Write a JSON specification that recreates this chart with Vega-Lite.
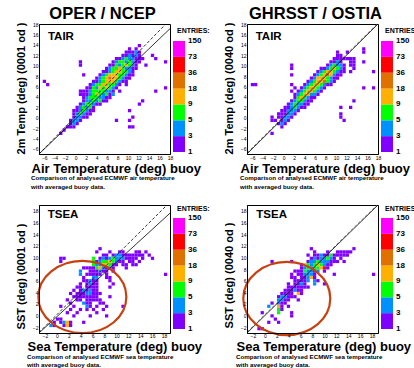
{
"$schema": "https://vega.github.io/schema/vega-lite/v6.json",
"padding": {"left": 14, "top": 5, "right": 0, "bottom": 0},
"background": "white",
"config": {
 "font": "Liberation Sans",
 "view": {"stroke": "black", "strokeWidth": 1},
 "axis": {"grid": false, "ticks": false, "labelFontSize": 5, "labelPadding": 1, "labelFlush": false, "labelOverlap": false, "domainColor": "black", "labelColor": "black", "titleColor": "black", "labelFont": "Liberation Sans", "titleFont": "Liberation Sans"},
 "title": {"font": "Liberation Sans", "color": "black"},
 "text": {"font": "Liberation Sans", "color": "black"}
},
"datasets": {
 "bands": [{"lo":0,"hi":1,"n":1},{"lo":1,"hi":2,"n":4},{"lo":2,"hi":3,"n":7},{"lo":3,"hi":4,"n":12},{"lo":4,"hi":5,"n":25},{"lo":5,"hi":6,"n":50},{"lo":6,"hi":7,"n":100}],
 "blab": [{"k":0,"lab":"1"},{"k":1,"lab":"3"},{"k":2,"lab":"5"},{"k":3,"lab":"9"},{"k":4,"lab":"18"},{"k":5,"lab":"36"},{"k":6,"lab":"73"},{"k":7,"lab":"150"}],
 "lines": [{"p":"A","t":"s","x":-7,"y":-7},{"p":"A","t":"s","x":18,"y":17.1},{"p":"A","t":"d","x":-7,"y":-7},{"p":"A","t":"d","x":17.2,"y":18},{"p":"B","t":"s","x":-7,"y":-7},{"p":"B","t":"s","x":18,"y":18},{"p":"B","t":"d","x":-7,"y":-6.8},{"p":"B","t":"d","x":17.8,"y":18},{"p":"C","t":"s","x":-3,"y":-3},{"p":"C","t":"s","x":19,"y":17.6},{"p":"C","t":"d","x":-3,"y":-2.9},{"p":"C","t":"d","x":18.5,"y":19},{"p":"D","t":"s","x":-3,"y":-3},{"p":"D","t":"s","x":19,"y":19},{"p":"D","t":"d","x":-3,"y":-2.85},{"p":"D","t":"d","x":18.85,"y":19}],
 "ell": [{"p":"C","x":4.28,"y":3.19},{"p":"D","x":3.68,"y":2.93}],
 "A": [
{"x":11.75,"y":13.625,"n":1},
{"x":9.875,"y":13,"n":1},{"x":11.125,"y":13,"n":1},
{"x":9.25,"y":12.375,"n":1},{"x":9.875,"y":12.375,"n":1},{"x":10.5,"y":12.375,"n":1},{"x":11.125,"y":12.375,"n":4},{"x":11.75,"y":12.375,"n":1},
{"x":8.625,"y":11.75,"n":1},{"x":9.25,"y":11.75,"n":1},{"x":9.875,"y":11.75,"n":4},{"x":10.5,"y":11.75,"n":1},{"x":11.125,"y":11.75,"n":4},{"x":11.75,"y":11.75,"n":1},{"x":14.25,"y":11.75,"n":1},
{"x":7.375,"y":11.125,"n":1},{"x":8,"y":11.125,"n":1},{"x":8.625,"y":11.125,"n":4},{"x":9.25,"y":11.125,"n":7},{"x":9.875,"y":11.125,"n":4},{"x":10.5,"y":11.125,"n":4},{"x":11.125,"y":11.125,"n":1},{"x":11.75,"y":11.125,"n":1},{"x":12.375,"y":11.125,"n":1},{"x":14.875,"y":11.125,"n":1},
{"x":0.5,"y":10.5,"n":1},{"x":6.75,"y":10.5,"n":1},{"x":7.375,"y":10.5,"n":4},{"x":8,"y":10.5,"n":7},{"x":8.625,"y":10.5,"n":7},{"x":9.25,"y":10.5,"n":4},{"x":9.875,"y":10.5,"n":7},{"x":10.5,"y":10.5,"n":4},{"x":11.125,"y":10.5,"n":1},{"x":11.75,"y":10.5,"n":1},{"x":16.75,"y":10.5,"n":1},
{"x":0.5,"y":9.875,"n":1},{"x":6.125,"y":9.875,"n":1},{"x":6.75,"y":9.875,"n":1},{"x":7.375,"y":9.875,"n":7},{"x":8,"y":9.875,"n":4},{"x":8.625,"y":9.875,"n":7},{"x":9.25,"y":9.875,"n":12},{"x":9.875,"y":9.875,"n":7},{"x":10.5,"y":9.875,"n":4},{"x":11.125,"y":9.875,"n":1},{"x":13,"y":9.875,"n":1},
{"x":5.5,"y":9.25,"n":1},{"x":6.125,"y":9.25,"n":4},{"x":6.75,"y":9.25,"n":7},{"x":7.375,"y":9.25,"n":7},{"x":8,"y":9.25,"n":12},{"x":8.625,"y":9.25,"n":7},{"x":9.25,"y":9.25,"n":4},{"x":9.875,"y":9.25,"n":4},{"x":10.5,"y":9.25,"n":1},{"x":11.125,"y":9.25,"n":1},
{"x":4.875,"y":8.625,"n":1},{"x":5.5,"y":8.625,"n":1},{"x":6.125,"y":8.625,"n":4},{"x":6.75,"y":8.625,"n":7},{"x":7.375,"y":8.625,"n":12},{"x":8,"y":8.625,"n":12},{"x":8.625,"y":8.625,"n":7},{"x":9.25,"y":8.625,"n":7},{"x":9.875,"y":8.625,"n":4},{"x":10.5,"y":8.625,"n":1},
{"x":1.125,"y":8,"n":1},{"x":4.25,"y":8,"n":1},{"x":4.875,"y":8,"n":4},{"x":5.5,"y":8,"n":7},{"x":6.125,"y":8,"n":12},{"x":6.75,"y":8,"n":12},{"x":7.375,"y":8,"n":12},{"x":8,"y":8,"n":7},{"x":8.625,"y":8,"n":7},{"x":9.25,"y":8,"n":4},{"x":9.875,"y":8,"n":1},{"x":10.5,"y":8,"n":1},
{"x":3.625,"y":7.375,"n":1},{"x":4.25,"y":7.375,"n":4},{"x":4.875,"y":7.375,"n":7},{"x":5.5,"y":7.375,"n":12},{"x":6.125,"y":7.375,"n":25},{"x":6.75,"y":7.375,"n":12},{"x":7.375,"y":7.375,"n":12},{"x":8,"y":7.375,"n":7},{"x":8.625,"y":7.375,"n":4},{"x":9.25,"y":7.375,"n":1},{"x":9.875,"y":7.375,"n":1},
{"x":-6.375,"y":6.75,"n":1},{"x":3,"y":6.75,"n":1},{"x":3.625,"y":6.75,"n":1},{"x":4.25,"y":6.75,"n":4},{"x":4.875,"y":6.75,"n":7},{"x":5.5,"y":6.75,"n":12},{"x":6.125,"y":6.75,"n":12},{"x":6.75,"y":6.75,"n":12},{"x":7.375,"y":6.75,"n":7},{"x":8,"y":6.75,"n":4},{"x":8.625,"y":6.75,"n":1},{"x":9.25,"y":6.75,"n":1},
{"x":-5.75,"y":6.125,"n":1},{"x":2.375,"y":6.125,"n":1},{"x":3,"y":6.125,"n":4},{"x":3.625,"y":6.125,"n":7},{"x":4.25,"y":6.125,"n":7},{"x":4.875,"y":6.125,"n":12},{"x":5.5,"y":6.125,"n":12},{"x":6.125,"y":6.125,"n":7},{"x":6.75,"y":6.125,"n":7},{"x":7.375,"y":6.125,"n":4},{"x":8,"y":6.125,"n":1},{"x":9.25,"y":6.125,"n":1},
{"x":1.75,"y":5.5,"n":1},{"x":2.375,"y":5.5,"n":1},{"x":3,"y":5.5,"n":7},{"x":3.625,"y":5.5,"n":4},{"x":4.25,"y":5.5,"n":12},{"x":4.875,"y":5.5,"n":7},{"x":5.5,"y":5.5,"n":12},{"x":6.125,"y":5.5,"n":7},{"x":6.75,"y":5.5,"n":4},{"x":7.375,"y":5.5,"n":1},{"x":16.75,"y":5.5,"n":1},
{"x":0.5,"y":4.875,"n":1},{"x":1.125,"y":4.875,"n":1},{"x":1.75,"y":4.875,"n":1},{"x":2.375,"y":4.875,"n":4},{"x":3,"y":4.875,"n":7},{"x":3.625,"y":4.875,"n":7},{"x":4.25,"y":4.875,"n":7},{"x":4.875,"y":4.875,"n":7},{"x":5.5,"y":4.875,"n":4},{"x":6.125,"y":4.875,"n":4},{"x":6.75,"y":4.875,"n":1},{"x":8,"y":4.875,"n":1},{"x":14.875,"y":4.875,"n":1},
{"x":0.5,"y":4.25,"n":1},{"x":1.125,"y":4.25,"n":1},{"x":1.75,"y":4.25,"n":1},{"x":2.375,"y":4.25,"n":4},{"x":3,"y":4.25,"n":7},{"x":3.625,"y":4.25,"n":12},{"x":4.25,"y":4.25,"n":7},{"x":4.875,"y":4.25,"n":4},{"x":5.5,"y":4.25,"n":7},{"x":6.125,"y":4.25,"n":1},{"x":6.75,"y":4.25,"n":4},
{"x":1.125,"y":3.625,"n":1},{"x":1.75,"y":3.625,"n":4},{"x":2.375,"y":3.625,"n":7},{"x":3,"y":3.625,"n":7},{"x":3.625,"y":3.625,"n":7},{"x":4.25,"y":3.625,"n":4},{"x":4.875,"y":3.625,"n":4},{"x":5.5,"y":3.625,"n":1},{"x":6.125,"y":3.625,"n":1},
{"x":1.125,"y":3,"n":1},{"x":1.75,"y":3,"n":4},{"x":2.375,"y":3,"n":4},{"x":3,"y":3,"n":7},{"x":3.625,"y":3,"n":4},{"x":4.25,"y":3,"n":7},{"x":4.875,"y":3,"n":1},{"x":5.5,"y":3,"n":1},{"x":12.375,"y":3,"n":1},
{"x":0.5,"y":2.375,"n":1},{"x":1.125,"y":2.375,"n":4},{"x":1.75,"y":2.375,"n":7},{"x":2.375,"y":2.375,"n":7},{"x":3,"y":2.375,"n":4},{"x":3.625,"y":2.375,"n":1},{"x":4.25,"y":2.375,"n":1},{"x":11.75,"y":2.375,"n":1},
{"x":-0.125,"y":1.75,"n":1},{"x":0.5,"y":1.75,"n":4},{"x":1.125,"y":1.75,"n":7},{"x":1.75,"y":1.75,"n":4},{"x":2.375,"y":1.75,"n":7},{"x":3,"y":1.75,"n":1},
{"x":-0.75,"y":1.125,"n":1},{"x":-0.125,"y":1.125,"n":1},{"x":0.5,"y":1.125,"n":4},{"x":1.125,"y":1.125,"n":7},{"x":1.75,"y":1.125,"n":4},{"x":2.375,"y":1.125,"n":1},{"x":3,"y":1.125,"n":1},{"x":9.875,"y":1.125,"n":1},
{"x":-0.75,"y":0.5,"n":1},{"x":-0.125,"y":0.5,"n":4},{"x":0.5,"y":0.5,"n":7},{"x":1.125,"y":0.5,"n":4},{"x":1.75,"y":0.5,"n":1},{"x":2.375,"y":0.5,"n":1},
{"x":-0.75,"y":-0.125,"n":1},{"x":-0.125,"y":-0.125,"n":4},{"x":0.5,"y":-0.125,"n":4},{"x":1.125,"y":-0.125,"n":1},{"x":1.75,"y":-0.125,"n":1},{"x":10.5,"y":-0.125,"n":1},
{"x":-1.375,"y":-0.75,"n":1},{"x":-0.75,"y":-0.75,"n":4},{"x":-0.125,"y":-0.75,"n":4},{"x":0.5,"y":-0.75,"n":1},{"x":7.375,"y":-0.75,"n":1},{"x":9.875,"y":-0.75,"n":1},
{"x":-1.375,"y":-1.375,"n":1},{"x":-0.75,"y":-1.375,"n":4},{"x":-0.125,"y":-1.375,"n":1},
{"x":-2,"y":-2,"n":1},{"x":-1.375,"y":-2,"n":1},{"x":-0.75,"y":-2,"n":1},{"x":9.875,"y":-2,"n":1},{"x":10.5,"y":-2,"n":1},
{"x":-2.625,"y":-2.625,"n":1},
{"x":-3.25,"y":-3.25,"n":1}
 ],
 "B": [
{"x":14.875,"y":13,"n":1},
{"x":9.875,"y":12.375,"n":1},{"x":11.75,"y":12.375,"n":1},{"x":14.875,"y":12.375,"n":1},
{"x":9.875,"y":11.75,"n":1},{"x":10.5,"y":11.75,"n":1},
{"x":9.25,"y":11.125,"n":1},{"x":9.875,"y":11.125,"n":1},{"x":10.5,"y":11.125,"n":1},{"x":11.125,"y":11.125,"n":1},{"x":11.75,"y":11.125,"n":1},{"x":12.375,"y":11.125,"n":1},{"x":13,"y":11.125,"n":1},
{"x":8.625,"y":10.5,"n":1},{"x":9.25,"y":10.5,"n":1},{"x":9.875,"y":10.5,"n":4},{"x":10.5,"y":10.5,"n":1},{"x":12.375,"y":10.5,"n":1},{"x":13,"y":10.5,"n":1},{"x":14.875,"y":10.5,"n":1},
{"x":1.125,"y":9.875,"n":1},{"x":8,"y":9.875,"n":1},{"x":8.625,"y":9.875,"n":4},{"x":9.25,"y":9.875,"n":7},{"x":9.875,"y":9.875,"n":4},{"x":10.5,"y":9.875,"n":4},{"x":11.125,"y":9.875,"n":1},{"x":12.375,"y":9.875,"n":1},{"x":13,"y":9.875,"n":1},
{"x":1.125,"y":9.25,"n":1},{"x":6.75,"y":9.25,"n":1},{"x":7.375,"y":9.25,"n":1},{"x":8,"y":9.25,"n":4},{"x":8.625,"y":9.25,"n":7},{"x":9.25,"y":9.25,"n":12},{"x":9.875,"y":9.25,"n":7},{"x":10.5,"y":9.25,"n":4},{"x":11.125,"y":9.25,"n":1},{"x":13,"y":9.25,"n":1},
{"x":6.125,"y":8.625,"n":1},{"x":6.75,"y":8.625,"n":4},{"x":7.375,"y":8.625,"n":7},{"x":8,"y":8.625,"n":12},{"x":8.625,"y":8.625,"n":12},{"x":9.25,"y":8.625,"n":7},{"x":9.875,"y":8.625,"n":4},{"x":10.5,"y":8.625,"n":1},{"x":11.125,"y":8.625,"n":1},{"x":12.375,"y":8.625,"n":1},{"x":16.75,"y":8.625,"n":1},
{"x":1.125,"y":8,"n":1},{"x":5.5,"y":8,"n":1},{"x":6.125,"y":8,"n":4},{"x":6.75,"y":8,"n":7},{"x":7.375,"y":8,"n":12},{"x":8,"y":8,"n":25},{"x":8.625,"y":8,"n":12},{"x":9.25,"y":8,"n":4},{"x":9.875,"y":8,"n":1},{"x":10.5,"y":8,"n":1},
{"x":4.875,"y":7.375,"n":1},{"x":5.5,"y":7.375,"n":4},{"x":6.125,"y":7.375,"n":12},{"x":6.75,"y":7.375,"n":12},{"x":7.375,"y":7.375,"n":12},{"x":8,"y":7.375,"n":7},{"x":8.625,"y":7.375,"n":4},{"x":9.25,"y":7.375,"n":1},{"x":9.875,"y":7.375,"n":1},
{"x":4.25,"y":6.75,"n":1},{"x":4.875,"y":6.75,"n":4},{"x":5.5,"y":6.75,"n":7},{"x":6.125,"y":6.75,"n":12},{"x":6.75,"y":6.75,"n":12},{"x":7.375,"y":6.75,"n":25},{"x":8,"y":6.75,"n":7},{"x":8.625,"y":6.75,"n":4},{"x":9.25,"y":6.75,"n":1},
{"x":-6.375,"y":6.125,"n":1},{"x":-5.75,"y":6.125,"n":1},{"x":1.125,"y":6.125,"n":1},{"x":3.625,"y":6.125,"n":1},{"x":4.25,"y":6.125,"n":4},{"x":4.875,"y":6.125,"n":7},{"x":5.5,"y":6.125,"n":12},{"x":6.125,"y":6.125,"n":12},{"x":6.75,"y":6.125,"n":7},{"x":7.375,"y":6.125,"n":4},{"x":8,"y":6.125,"n":1},{"x":8.625,"y":6.125,"n":1},
{"x":1.75,"y":5.5,"n":1},{"x":3,"y":5.5,"n":1},{"x":3.625,"y":5.5,"n":4},{"x":4.25,"y":5.5,"n":7},{"x":4.875,"y":5.5,"n":12},{"x":5.5,"y":5.5,"n":12},{"x":6.125,"y":5.5,"n":7},{"x":6.75,"y":5.5,"n":4},{"x":7.375,"y":5.5,"n":1},{"x":14.875,"y":5.5,"n":1},{"x":16.75,"y":5.5,"n":1},
{"x":1.125,"y":4.875,"n":1},{"x":2.375,"y":4.875,"n":1},{"x":3,"y":4.875,"n":4},{"x":3.625,"y":4.875,"n":7},{"x":4.25,"y":4.875,"n":12},{"x":4.875,"y":4.875,"n":12},{"x":5.5,"y":4.875,"n":7},{"x":6.125,"y":4.875,"n":4},{"x":6.75,"y":4.875,"n":1},
{"x":1.75,"y":4.25,"n":1},{"x":2.375,"y":4.25,"n":4},{"x":3,"y":4.25,"n":7},{"x":3.625,"y":4.25,"n":12},{"x":4.25,"y":4.25,"n":12},{"x":4.875,"y":4.25,"n":4},{"x":5.5,"y":4.25,"n":4},{"x":6.125,"y":4.25,"n":1},
{"x":1.75,"y":3.625,"n":1},{"x":2.375,"y":3.625,"n":7},{"x":3,"y":3.625,"n":12},{"x":3.625,"y":3.625,"n":7},{"x":4.25,"y":3.625,"n":4},{"x":4.875,"y":3.625,"n":1},{"x":5.5,"y":3.625,"n":1},
{"x":1.125,"y":3,"n":1},{"x":1.75,"y":3,"n":4},{"x":2.375,"y":3,"n":7},{"x":3,"y":3,"n":7},{"x":3.625,"y":3,"n":4},{"x":4.25,"y":3,"n":1},{"x":4.875,"y":3,"n":1},{"x":13,"y":3,"n":1},
{"x":0.5,"y":2.375,"n":1},{"x":1.125,"y":2.375,"n":4},{"x":1.75,"y":2.375,"n":7},{"x":2.375,"y":2.375,"n":4},{"x":3,"y":2.375,"n":4},{"x":3.625,"y":2.375,"n":1},{"x":4.25,"y":2.375,"n":1},
{"x":-0.125,"y":1.75,"n":1},{"x":0.5,"y":1.75,"n":1},{"x":1.125,"y":1.75,"n":4},{"x":1.75,"y":1.75,"n":7},{"x":2.375,"y":1.75,"n":4},{"x":3,"y":1.75,"n":1},{"x":3.625,"y":1.75,"n":1},{"x":10.5,"y":1.75,"n":1},{"x":12.375,"y":1.75,"n":1},
{"x":-0.75,"y":1.125,"n":1},{"x":-0.125,"y":1.125,"n":1},{"x":0.5,"y":1.125,"n":4},{"x":1.125,"y":1.125,"n":4},{"x":1.75,"y":1.125,"n":4},{"x":2.375,"y":1.125,"n":1},
{"x":-1.375,"y":0.5,"n":1},{"x":-0.75,"y":0.5,"n":1},{"x":-0.125,"y":0.5,"n":1},{"x":0.5,"y":0.5,"n":4},{"x":1.125,"y":0.5,"n":4},{"x":1.75,"y":0.5,"n":1},{"x":10.5,"y":0.5,"n":1},
{"x":-2.625,"y":-0.125,"n":1},{"x":-1.375,"y":-0.125,"n":1},{"x":-0.75,"y":-0.125,"n":1},{"x":-0.125,"y":-0.125,"n":4},{"x":0.5,"y":-0.125,"n":4},{"x":1.125,"y":-0.125,"n":1},{"x":10.5,"y":-0.125,"n":1},
{"x":-2.625,"y":-0.75,"n":1},{"x":-2,"y":-0.75,"n":1},{"x":-0.75,"y":-0.75,"n":1},{"x":-0.125,"y":-0.75,"n":4},{"x":0.5,"y":-0.75,"n":1},{"x":11.125,"y":-0.75,"n":1},
{"x":-1.375,"y":-1.375,"n":1},{"x":-0.75,"y":-1.375,"n":4},{"x":-0.125,"y":-1.375,"n":1},
{"x":-0.75,"y":-2,"n":1},
{"x":-2.625,"y":-3.25,"n":1}
 ],
 "C": [
{"x":6.9,"y":11.3,"n":1},
{"x":6.35,"y":10.75,"n":1},{"x":8.55,"y":10.75,"n":1},{"x":10.2,"y":10.75,"n":1},{"x":10.75,"y":10.75,"n":1},{"x":12.95,"y":10.75,"n":1},{"x":13.5,"y":10.75,"n":1},{"x":14.6,"y":10.75,"n":1},
{"x":7.45,"y":10.2,"n":1},{"x":8,"y":10.2,"n":1},{"x":9.1,"y":10.2,"n":1},{"x":9.65,"y":10.2,"n":4},{"x":10.2,"y":10.2,"n":4},{"x":10.75,"y":10.2,"n":1},{"x":11.3,"y":10.2,"n":1},{"x":11.85,"y":10.2,"n":1},{"x":12.4,"y":10.2,"n":1},{"x":12.95,"y":10.2,"n":1},{"x":13.5,"y":10.2,"n":1},{"x":14.05,"y":10.2,"n":1},{"x":15.15,"y":10.2,"n":1},
{"x":0.3,"y":9.65,"n":1},{"x":0.85,"y":9.65,"n":1},{"x":5.8,"y":9.65,"n":7},{"x":6.9,"y":9.65,"n":1},{"x":7.45,"y":9.65,"n":4},{"x":8,"y":9.65,"n":1},{"x":8.55,"y":9.65,"n":4},{"x":9.1,"y":9.65,"n":7},{"x":9.65,"y":9.65,"n":4},{"x":10.2,"y":9.65,"n":4},{"x":10.75,"y":9.65,"n":4},{"x":11.3,"y":9.65,"n":1},{"x":11.85,"y":9.65,"n":1},{"x":12.4,"y":9.65,"n":1},{"x":12.95,"y":9.65,"n":1},{"x":14.05,"y":9.65,"n":1},{"x":15.7,"y":9.65,"n":1},
{"x":0.3,"y":9.1,"n":1},{"x":5.8,"y":9.1,"n":7},{"x":6.35,"y":9.1,"n":1},{"x":6.9,"y":9.1,"n":4},{"x":7.45,"y":9.1,"n":7},{"x":8,"y":9.1,"n":7},{"x":8.55,"y":9.1,"n":12},{"x":9.1,"y":9.1,"n":7},{"x":9.65,"y":9.1,"n":4},{"x":10.2,"y":9.1,"n":1},{"x":10.75,"y":9.1,"n":1},{"x":11.85,"y":9.1,"n":1},{"x":12.4,"y":9.1,"n":1},{"x":13.5,"y":9.1,"n":1},
{"x":5.8,"y":8.55,"n":7},{"x":6.35,"y":8.55,"n":4},{"x":6.9,"y":8.55,"n":4},{"x":7.45,"y":8.55,"n":12},{"x":8,"y":8.55,"n":12},{"x":8.55,"y":8.55,"n":7},{"x":9.1,"y":8.55,"n":1},{"x":9.65,"y":8.55,"n":1},{"x":10.75,"y":8.55,"n":1},{"x":11.3,"y":8.55,"n":1},{"x":12.4,"y":8.55,"n":1},{"x":12.95,"y":8.55,"n":1},
{"x":4.15,"y":8,"n":1},{"x":4.7,"y":8,"n":1},{"x":5.25,"y":8,"n":1},{"x":5.8,"y":8,"n":1},{"x":6.35,"y":8,"n":7},{"x":6.9,"y":8,"n":12},{"x":7.45,"y":8,"n":4},{"x":8,"y":8,"n":1},{"x":8.55,"y":8,"n":4},{"x":9.1,"y":8,"n":1},{"x":11.3,"y":8,"n":1},
{"x":3.6,"y":7.45,"n":4},{"x":5.25,"y":7.45,"n":1},{"x":5.8,"y":7.45,"n":1},{"x":6.35,"y":7.45,"n":1},{"x":6.9,"y":7.45,"n":4},{"x":7.45,"y":7.45,"n":1},{"x":8,"y":7.45,"n":1},{"x":9.1,"y":7.45,"n":1},
{"x":3.6,"y":6.9,"n":4},{"x":4.7,"y":6.9,"n":1},{"x":5.25,"y":6.9,"n":1},{"x":5.8,"y":6.9,"n":1},{"x":6.35,"y":6.9,"n":1},{"x":6.9,"y":6.9,"n":1},{"x":8,"y":6.9,"n":1},{"x":17.9,"y":6.9,"n":1},
{"x":4.15,"y":6.35,"n":1},{"x":5.8,"y":6.35,"n":4},{"x":6.35,"y":6.35,"n":4},{"x":8,"y":6.35,"n":1},{"x":8.55,"y":6.35,"n":1},
{"x":4.15,"y":5.8,"n":1},{"x":4.7,"y":5.8,"n":1},{"x":5.25,"y":5.8,"n":4},{"x":5.8,"y":5.8,"n":1},{"x":6.35,"y":5.8,"n":1},{"x":8.55,"y":5.8,"n":1},
{"x":3.6,"y":5.25,"n":1},{"x":4.7,"y":5.25,"n":1},{"x":5.25,"y":5.25,"n":4},{"x":5.8,"y":5.25,"n":1},{"x":6.35,"y":5.25,"n":1},{"x":9.1,"y":5.25,"n":1},
{"x":3.05,"y":4.7,"n":1},{"x":3.6,"y":4.7,"n":1},{"x":4.7,"y":4.7,"n":1},{"x":5.25,"y":4.7,"n":1},{"x":5.8,"y":4.7,"n":1},{"x":6.35,"y":4.7,"n":1},{"x":8.55,"y":4.7,"n":1},
{"x":2.5,"y":4.15,"n":1},{"x":3.6,"y":4.15,"n":1},{"x":4.15,"y":4.15,"n":4},{"x":4.7,"y":4.15,"n":1},{"x":5.25,"y":4.15,"n":4},{"x":5.8,"y":4.15,"n":1},{"x":6.35,"y":4.15,"n":1},
{"x":1.95,"y":3.6,"n":1},{"x":3.05,"y":3.6,"n":1},{"x":3.6,"y":3.6,"n":1},{"x":4.15,"y":3.6,"n":1},{"x":4.7,"y":3.6,"n":4},{"x":5.25,"y":3.6,"n":4},{"x":5.8,"y":3.6,"n":1},{"x":6.35,"y":3.6,"n":1},{"x":6.9,"y":3.6,"n":1},
{"x":2.5,"y":3.05,"n":1},{"x":3.05,"y":3.05,"n":1},{"x":3.6,"y":3.05,"n":1},{"x":4.15,"y":3.05,"n":1},{"x":4.7,"y":3.05,"n":1},{"x":5.25,"y":3.05,"n":1},{"x":5.8,"y":3.05,"n":1},{"x":6.35,"y":3.05,"n":1},{"x":8.55,"y":3.05,"n":1},
{"x":1.4,"y":2.5,"n":1},{"x":3.05,"y":2.5,"n":1},{"x":3.6,"y":2.5,"n":1},{"x":4.7,"y":2.5,"n":1},{"x":5.25,"y":2.5,"n":1},{"x":5.8,"y":2.5,"n":1},{"x":6.35,"y":2.5,"n":1},{"x":6.9,"y":2.5,"n":1},
{"x":1.95,"y":1.95,"n":1},{"x":4.15,"y":1.95,"n":4},{"x":4.7,"y":1.95,"n":1},{"x":5.25,"y":1.95,"n":1},{"x":6.9,"y":1.95,"n":1},{"x":7.45,"y":1.95,"n":1},
{"x":0.3,"y":1.4,"n":1},{"x":2.5,"y":1.4,"n":1},{"x":4.7,"y":1.4,"n":4},{"x":5.25,"y":1.4,"n":1},{"x":6.35,"y":1.4,"n":1},{"x":8,"y":1.4,"n":1},{"x":10.75,"y":1.4,"n":1},
{"x":1.95,"y":0.85,"n":1},{"x":3.6,"y":0.85,"n":1},{"x":4.7,"y":0.85,"n":1},{"x":5.8,"y":0.85,"n":1},{"x":7.45,"y":0.85,"n":1},
{"x":1.4,"y":0.3,"n":1},{"x":3.05,"y":0.3,"n":1},{"x":6.35,"y":0.3,"n":1},
{"x":2.5,"y":-0.25,"n":1},{"x":5.25,"y":-0.25,"n":1},{"x":8,"y":-0.25,"n":1},
{"x":-0.25,"y":-0.8,"n":1},{"x":0.3,"y":-0.8,"n":1},
{"x":-0.8,"y":-1.35,"n":1},{"x":0.3,"y":-1.35,"n":1},{"x":0.85,"y":-1.35,"n":4},{"x":1.4,"y":-1.35,"n":12},{"x":1.95,"y":-1.35,"n":1},{"x":4.15,"y":-1.35,"n":1},
{"x":-1.35,"y":-1.9,"n":4},{"x":-0.8,"y":-1.9,"n":1},{"x":0.85,"y":-1.9,"n":1},{"x":1.4,"y":-1.9,"n":12},{"x":1.95,"y":-1.9,"n":1}
 ],
 "D": [
{"x":7.45,"y":11.3,"n":1},{"x":14.6,"y":11.3,"n":1},
{"x":8,"y":10.75,"n":1},{"x":10.2,"y":10.75,"n":1},{"x":11.85,"y":10.75,"n":1},{"x":12.4,"y":10.75,"n":1},{"x":12.95,"y":10.75,"n":1},{"x":13.5,"y":10.75,"n":1},{"x":14.05,"y":10.75,"n":1},
{"x":6.9,"y":10.2,"n":1},{"x":8,"y":10.2,"n":1},{"x":8.55,"y":10.2,"n":1},{"x":9.1,"y":10.2,"n":4},{"x":9.65,"y":10.2,"n":1},{"x":10.2,"y":10.2,"n":1},{"x":10.75,"y":10.2,"n":7},{"x":11.3,"y":10.2,"n":1},{"x":11.85,"y":10.2,"n":1},{"x":12.4,"y":10.2,"n":1},{"x":12.95,"y":10.2,"n":1},{"x":13.5,"y":10.2,"n":1},
{"x":7.45,"y":9.65,"n":1},{"x":8,"y":9.65,"n":4},{"x":8.55,"y":9.65,"n":1},{"x":9.1,"y":9.65,"n":4},{"x":9.65,"y":9.65,"n":4},{"x":10.2,"y":9.65,"n":7},{"x":10.75,"y":9.65,"n":4},{"x":11.3,"y":9.65,"n":1},{"x":12.4,"y":9.65,"n":1},
{"x":0.85,"y":9.1,"n":1},{"x":4.15,"y":9.1,"n":1},{"x":6.9,"y":9.1,"n":1},{"x":7.45,"y":9.1,"n":4},{"x":8,"y":9.1,"n":4},{"x":8.55,"y":9.1,"n":7},{"x":9.1,"y":9.1,"n":4},{"x":9.65,"y":9.1,"n":4},{"x":10.2,"y":9.1,"n":4},{"x":10.75,"y":9.1,"n":1},{"x":11.3,"y":9.1,"n":1},{"x":11.85,"y":9.1,"n":1},{"x":12.95,"y":9.1,"n":1},
{"x":5.8,"y":8.55,"n":1},{"x":6.35,"y":8.55,"n":12},{"x":6.9,"y":8.55,"n":7},{"x":7.45,"y":8.55,"n":4},{"x":8,"y":8.55,"n":7},{"x":8.55,"y":8.55,"n":12},{"x":9.1,"y":8.55,"n":7},{"x":9.65,"y":8.55,"n":4},{"x":10.2,"y":8.55,"n":1},{"x":10.75,"y":8.55,"n":1},
{"x":5.8,"y":8,"n":1},{"x":6.35,"y":8,"n":4},{"x":6.9,"y":8,"n":7},{"x":7.45,"y":8,"n":4},{"x":8,"y":8,"n":7},{"x":8.55,"y":8,"n":7},{"x":9.1,"y":8,"n":12},{"x":9.65,"y":8,"n":50},{"x":10.2,"y":8,"n":1},
{"x":4.7,"y":7.45,"n":1},{"x":5.25,"y":7.45,"n":1},{"x":5.8,"y":7.45,"n":1},{"x":6.35,"y":7.45,"n":7},{"x":6.9,"y":7.45,"n":4},{"x":7.45,"y":7.45,"n":4},{"x":8,"y":7.45,"n":1},{"x":8.55,"y":7.45,"n":4},{"x":9.65,"y":7.45,"n":1},
{"x":4.15,"y":6.9,"n":1},{"x":5.25,"y":6.9,"n":1},{"x":5.8,"y":6.9,"n":1},{"x":6.35,"y":6.9,"n":4},{"x":6.9,"y":6.9,"n":4},{"x":7.45,"y":6.9,"n":4},{"x":8,"y":6.9,"n":1},{"x":11.3,"y":6.9,"n":1},{"x":17.9,"y":6.9,"n":1},
{"x":4.15,"y":6.35,"n":1},{"x":4.7,"y":6.35,"n":1},{"x":5.8,"y":6.35,"n":1},{"x":6.35,"y":6.35,"n":1},{"x":6.9,"y":6.35,"n":4},{"x":7.45,"y":6.35,"n":12},{"x":8,"y":6.35,"n":1},
{"x":4.7,"y":5.8,"n":1},{"x":5.25,"y":5.8,"n":1},{"x":5.8,"y":5.8,"n":1},{"x":6.35,"y":5.8,"n":1},{"x":6.9,"y":5.8,"n":4},{"x":8,"y":5.8,"n":4},{"x":8.55,"y":5.8,"n":1},
{"x":3.6,"y":5.25,"n":1},{"x":4.7,"y":5.25,"n":1},{"x":5.25,"y":5.25,"n":1},{"x":5.8,"y":5.25,"n":4},{"x":6.35,"y":5.25,"n":1},{"x":8,"y":5.25,"n":4},{"x":9.65,"y":5.25,"n":1},
{"x":3.6,"y":4.7,"n":1},{"x":4.15,"y":4.7,"n":1},{"x":4.7,"y":4.7,"n":1},{"x":5.25,"y":4.7,"n":1},{"x":5.8,"y":4.7,"n":1},{"x":6.35,"y":4.7,"n":1},{"x":6.9,"y":4.7,"n":1},
{"x":3.05,"y":4.15,"n":1},{"x":3.6,"y":4.15,"n":1},{"x":4.15,"y":4.15,"n":1},{"x":4.7,"y":4.15,"n":4},{"x":5.25,"y":4.15,"n":1},{"x":5.8,"y":4.15,"n":1},
{"x":2.5,"y":3.6,"n":1},{"x":3.05,"y":3.6,"n":1},{"x":3.6,"y":3.6,"n":1},{"x":4.15,"y":3.6,"n":1},{"x":5.25,"y":3.6,"n":12},{"x":5.8,"y":3.6,"n":1},
{"x":1.95,"y":3.05,"n":1},{"x":2.5,"y":3.05,"n":4},{"x":3.05,"y":3.05,"n":4},{"x":3.6,"y":3.05,"n":1},{"x":4.15,"y":3.05,"n":1},{"x":4.7,"y":3.05,"n":1},
{"x":1.95,"y":2.5,"n":4},{"x":2.5,"y":2.5,"n":4},{"x":3.05,"y":2.5,"n":1},{"x":3.6,"y":2.5,"n":1},{"x":5.25,"y":2.5,"n":1},
{"x":0.85,"y":1.95,"n":1},{"x":1.95,"y":1.95,"n":4},{"x":2.5,"y":1.95,"n":1},{"x":3.05,"y":1.95,"n":1},
{"x":0.3,"y":1.4,"n":4},{"x":1.95,"y":1.4,"n":12},{"x":2.5,"y":1.4,"n":1},{"x":3.6,"y":1.4,"n":1},
{"x":1.95,"y":0.85,"n":7},{"x":2.5,"y":0.85,"n":1},
{"x":-0.8,"y":0.3,"n":1},{"x":1.95,"y":0.3,"n":7},{"x":4.15,"y":0.3,"n":1},
{"x":0.85,"y":-0.25,"n":1},{"x":4.15,"y":-0.25,"n":1},
{"x":1.4,"y":-0.8,"n":1},
{"x":0.3,"y":-1.35,"n":1},{"x":1.95,"y":-1.35,"n":1},
{"x":-1.35,"y":-2.45,"n":1},{"x":-0.8,"y":-2.45,"n":1}
 ]
},
"concat": [
 {
  "width": 131, "height": 130,
  "title": {"text": ["Comparison of analysed ECMWF air temperature", "with averaged buoy data."], "orient": "bottom", "anchor": "start", "frame": "group", "dx": -8, "fontSize": 6.2, "fontWeight": "bold", "lineHeight": 8.5, "baseline": "alphabetic", "offset": 5},
  "layer": [
   {"data": {"name": "A"}, "mark": {"type": "rect"},
    "encoding": {
     "x": {"field": "x", "type": "quantitative", "bin": {"binned": true, "step": 0.625}, "scale": {"domain": [-7, 18], "nice": false, "zero": false}, "axis": {"orient": "bottom", "format": "d", "values": [-6,-4,-2,0,2,4,6,8,10,12,14,16,18], "title": "Air Temperature (deg) buoy", "titleFontSize": 13, "titleFontWeight": "bold", "titleX": -8, "titleY": 18.3, "titleAlign": "left", "titleBaseline": "alphabetic"}},
     "y": {"field": "y", "type": "quantitative", "bin": {"binned": true, "step": 0.625}, "scale": {"domain": [-7, 18], "nice": false, "zero": false}, "axis": {"orient": "left", "format": "d", "values": [-6,-4,-2,0,2,4,6,8,10,12,14,16,18], "title": "2m Temp (deg) (0001 od )", "titleFontSize": 11, "titleFontWeight": "bold", "titleX": -14.5, "titleY": 64, "titleAngle": 270, "titleAlign": "center", "titleBaseline": "alphabetic"}},
     "color": {"field": "n", "type": "quantitative", "scale": {"type": "threshold", "domain": [3,5,9,18,36,73], "range": ["#8000ff","#0090ff","#00ff00","#ffb000","#e07000","#ff0000","#ff00ff"]}, "legend": null}
    }},
   {"data": {"name": "lines"}, "transform": [{"filter": "datum.p == 'A' && datum.t == 's'"}], "mark": {"type": "line", "color": "black", "strokeWidth": 0.8},
    "encoding": {"x": {"field": "x", "type": "quantitative", "axis": {"orient": "top", "title": "OPER / NCEP", "labels": false, "ticks": false, "domain": false, "titleFontSize": 16.5, "titleFontWeight": "bold", "titleX": 63, "titleY": -5.3, "titleAlign": "center", "titleBaseline": "alphabetic"}}, "y": {"field": "y", "type": "quantitative", "axis": null}}},
   {"data": {"name": "lines"}, "transform": [{"filter": "datum.p == 'A' && datum.t == 'd'"}], "mark": {"type": "line", "color": "black", "strokeWidth": 0.8, "strokeDash": [3, 2]},
    "encoding": {"x": {"field": "x", "type": "quantitative", "axis": null}, "y": {"field": "y", "type": "quantitative", "axis": null}}},
   {"data": {"values": [{"t": "TAIR"}]}, "mark": {"type": "text", "align": "left", "baseline": "alphabetic", "fontSize": 11.5, "fontWeight": "bold"},
    "encoding": {"x": {"datum": -5.3, "type": "quantitative", "axis": null}, "y": {"datum": 15, "type": "quantitative", "axis": null}, "text": {"field": "t"}}}
  ],
  "resolve": {"axis": {"x": "independent", "y": "independent"}}
 },
 {
  "width": 71, "height": 130, "view": {"stroke": null},
  "layer": [
   {"data": {"name": "bands"}, "mark": {"type": "rect"},
    "encoding": {"x": {"datum": 0, "type": "quantitative", "scale": {"domain": [0, 71], "nice": false, "zero": false}, "axis": null}, "x2": {"datum": 12}, "y": {"field": "lo", "type": "quantitative", "scale": {"domain": [-0.126, 8.072], "nice": false, "zero": false}, "axis": null}, "y2": {"field": "hi"},
     "color": {"field": "n", "type": "quantitative", "scale": {"type": "threshold", "domain": [3,5,9,18,36,73], "range": ["#8000ff","#0090ff","#00ff00","#ffb000","#e07000","#ff0000","#ff00ff"]}, "legend": null}}},
   {"data": {"name": "blab"}, "mark": {"type": "text", "align": "left", "baseline": "middle", "dx": 3, "fontSize": 8, "fontWeight": "bold"},
    "encoding": {"x": {"datum": 12, "type": "quantitative", "axis": null}, "y": {"field": "k", "type": "quantitative", "axis": null}, "text": {"field": "lab"}}},
   {"data": {"values": [{"lab": "ENTRIES:"}]}, "mark": {"type": "text", "align": "left", "baseline": "middle", "fontSize": 7, "fontWeight": "bold"},
    "encoding": {"x": {"datum": 4, "type": "quantitative", "axis": null}, "y": {"datum": 7.63, "type": "quantitative", "axis": null}, "text": {"field": "lab"}}}
  ]
 },
 {
  "width": 131, "height": 130,
  "title": {"text": ["Comparison of analysed ECMWF air temperature", "with averaged buoy data."], "orient": "bottom", "anchor": "start", "frame": "group", "dx": -7, "fontSize": 6.2, "fontWeight": "bold", "lineHeight": 8.5, "baseline": "alphabetic", "offset": 5},
  "layer": [
   {"data": {"name": "B"}, "mark": {"type": "rect"},
    "encoding": {
     "x": {"field": "x", "type": "quantitative", "bin": {"binned": true, "step": 0.625}, "scale": {"domain": [-7, 18], "nice": false, "zero": false}, "axis": {"orient": "bottom", "format": "d", "values": [-6,-4,-2,0,2,4,6,8,10,12,14,16,18], "title": "Air Temperature (deg) buoy", "titleFontSize": 13, "titleFontWeight": "bold", "titleX": -7, "titleY": 18.3, "titleAlign": "left", "titleBaseline": "alphabetic"}},
     "y": {"field": "y", "type": "quantitative", "bin": {"binned": true, "step": 0.625}, "scale": {"domain": [-7, 18], "nice": false, "zero": false}, "axis": {"orient": "left", "format": "d", "values": [-6,-4,-2,0,2,4,6,8,10,12,14,16,18], "title": "2m Temp (deg) (0040 od )", "titleFontSize": 11, "titleFontWeight": "bold", "titleX": -14.5, "titleY": 64, "titleAngle": 270, "titleAlign": "center", "titleBaseline": "alphabetic"}},
     "color": {"field": "n", "type": "quantitative", "scale": {"type": "threshold", "domain": [3,5,9,18,36,73], "range": ["#8000ff","#0090ff","#00ff00","#ffb000","#e07000","#ff0000","#ff00ff"]}, "legend": null}
    }},
   {"data": {"name": "lines"}, "transform": [{"filter": "datum.p == 'B' && datum.t == 's'"}], "mark": {"type": "line", "color": "black", "strokeWidth": 0.8},
    "encoding": {"x": {"field": "x", "type": "quantitative", "axis": {"orient": "top", "title": "GHRSST / OSTIA", "labels": false, "ticks": false, "domain": false, "titleFontSize": 16.5, "titleFontWeight": "bold", "titleX": 68, "titleY": -5.3, "titleAlign": "center", "titleBaseline": "alphabetic"}}, "y": {"field": "y", "type": "quantitative", "axis": null}}},
   {"data": {"name": "lines"}, "transform": [{"filter": "datum.p == 'B' && datum.t == 'd'"}], "mark": {"type": "line", "color": "#555555", "strokeWidth": 0.8, "strokeDash": [3, 2]},
    "encoding": {"x": {"field": "x", "type": "quantitative", "axis": null}, "y": {"field": "y", "type": "quantitative", "axis": null}}},
   {"data": {"values": [{"t": "TAIR"}]}, "mark": {"type": "text", "align": "left", "baseline": "alphabetic", "fontSize": 11.5, "fontWeight": "bold"},
    "encoding": {"x": {"datum": -5.34, "type": "quantitative", "axis": null}, "y": {"datum": 15, "type": "quantitative", "axis": null}, "text": {"field": "t"}}}
  ],
  "resolve": {"axis": {"x": "independent", "y": "independent"}}
 },
 {
  "width": 30, "height": 130, "view": {"stroke": null},
  "layer": [
   {"data": {"name": "bands"}, "mark": {"type": "rect"},
    "encoding": {"x": {"datum": 0, "type": "quantitative", "scale": {"domain": [0, 30], "nice": false, "zero": false}, "axis": null}, "x2": {"datum": 12}, "y": {"field": "lo", "type": "quantitative", "scale": {"domain": [-0.126, 8.072], "nice": false, "zero": false}, "axis": null}, "y2": {"field": "hi"},
     "color": {"field": "n", "type": "quantitative", "scale": {"type": "threshold", "domain": [3,5,9,18,36,73], "range": ["#8000ff","#0090ff","#00ff00","#ffb000","#e07000","#ff0000","#ff00ff"]}, "legend": null}}},
   {"data": {"name": "blab"}, "mark": {"type": "text", "align": "left", "baseline": "middle", "dx": 3, "fontSize": 8, "fontWeight": "bold"},
    "encoding": {"x": {"datum": 12, "type": "quantitative", "axis": null}, "y": {"field": "k", "type": "quantitative", "axis": null}, "text": {"field": "lab"}}},
   {"data": {"values": [{"lab": "ENTRIES:"}]}, "mark": {"type": "text", "align": "left", "baseline": "middle", "fontSize": 7, "fontWeight": "bold"},
    "encoding": {"x": {"datum": 4, "type": "quantitative", "axis": null}, "y": {"datum": 7.63, "type": "quantitative", "axis": null}, "text": {"field": "lab"}}}
  ]
 },
 {
  "width": 131, "height": 128,
  "title": {"text": ["Comparison of analysed ECMWF sea temperature", "with averaged buoy data."], "orient": "bottom", "anchor": "start", "frame": "group", "dx": -12, "fontSize": 6.2, "fontWeight": "bold", "lineHeight": 8, "baseline": "alphabetic", "offset": 5.5},
  "layer": [
   {"data": {"name": "C"}, "mark": {"type": "rect"},
    "encoding": {
     "x": {"field": "x", "type": "quantitative", "bin": {"binned": true, "step": 0.55}, "scale": {"domain": [-3, 19], "nice": false, "zero": false}, "axis": {"orient": "bottom", "format": "d", "labelPadding": 0, "values": [-2,0,2,4,6,8,10,12,14,16,18], "title": "Sea Temperature (deg) buoy", "titleFontSize": 13, "titleFontWeight": "bold", "titleX": -12, "titleY": 17.5, "titleAlign": "left", "titleBaseline": "alphabetic"}},
     "y": {"field": "y", "type": "quantitative", "bin": {"binned": true, "step": 0.55}, "scale": {"domain": [-3, 19], "nice": false, "zero": false}, "axis": {"orient": "left", "format": "d", "values": [-2,0,2,4,6,8,10,12,14,16,18], "title": "SST (deg) (0001 od )", "titleFontSize": 11, "titleFontWeight": "bold", "titleX": -14.5, "titleY": 71, "titleAngle": 270, "titleAlign": "center", "titleBaseline": "alphabetic"}},
     "color": {"field": "n", "type": "quantitative", "scale": {"type": "threshold", "domain": [3,5,9,18,36,73], "range": ["#8000ff","#0090ff","#00ff00","#ffb000","#e07000","#ff0000","#ff00ff"]}, "legend": null}
    }},
   {"data": {"name": "lines"}, "transform": [{"filter": "datum.p == 'C' && datum.t == 's'"}], "mark": {"type": "line", "color": "black", "strokeWidth": 0.8},
    "encoding": {"x": {"field": "x", "type": "quantitative", "axis": null}, "y": {"field": "y", "type": "quantitative", "axis": null}}},
   {"data": {"name": "lines"}, "transform": [{"filter": "datum.p == 'C' && datum.t == 'd'"}], "mark": {"type": "line", "color": "black", "strokeWidth": 0.8, "strokeDash": [3, 2]},
    "encoding": {"x": {"field": "x", "type": "quantitative", "axis": null}, "y": {"field": "y", "type": "quantitative", "axis": null}}},
   {"data": {"name": "ell"}, "transform": [{"filter": "datum.p == 'C'"}], "mark": {"type": "point", "shape": "M -1 0 A 1 0.82 0 1 1 1 0 A 1 0.82 0 1 1 -1 0 Z", "size": 7744, "filled": false, "color": "#c8400f", "strokeWidth": 2.2, "opacity": 1},
    "encoding": {"x": {"field": "x", "type": "quantitative", "axis": null}, "y": {"field": "y", "type": "quantitative", "axis": null}}},
   {"data": {"values": [{"t": "TSEA"}]}, "mark": {"type": "text", "align": "left", "baseline": "alphabetic", "fontSize": 11.5, "fontWeight": "bold"},
    "encoding": {"x": {"datum": -1.54, "type": "quantitative", "axis": null}, "y": {"datum": 16.8, "type": "quantitative", "axis": null}, "text": {"field": "t"}}}
  ],
  "resolve": {"axis": {"x": "independent", "y": "independent"}}
 },
 {
  "width": 71, "height": 128, "view": {"stroke": null},
  "layer": [
   {"data": {"name": "bands"}, "mark": {"type": "rect"},
    "encoding": {"x": {"datum": 0, "type": "quantitative", "scale": {"domain": [0, 71], "nice": false, "zero": false}, "axis": null}, "x2": {"datum": 12}, "y": {"field": "lo", "type": "quantitative", "scale": {"domain": [-0.252, 7.82], "nice": false, "zero": false}, "axis": null}, "y2": {"field": "hi"},
     "color": {"field": "n", "type": "quantitative", "scale": {"type": "threshold", "domain": [3,5,9,18,36,73], "range": ["#8000ff","#0090ff","#00ff00","#ffb000","#e07000","#ff0000","#ff00ff"]}, "legend": null}}},
   {"data": {"name": "blab"}, "mark": {"type": "text", "align": "left", "baseline": "middle", "dx": 3, "fontSize": 8, "fontWeight": "bold"},
    "encoding": {"x": {"datum": 12, "type": "quantitative", "axis": null}, "y": {"field": "k", "type": "quantitative", "axis": null}, "text": {"field": "lab"}}},
   {"data": {"values": [{"lab": "ENTRIES:"}]}, "mark": {"type": "text", "align": "left", "baseline": "middle", "fontSize": 7, "fontWeight": "bold"},
    "encoding": {"x": {"datum": 4, "type": "quantitative", "axis": null}, "y": {"datum": 7.57, "type": "quantitative", "axis": null}, "text": {"field": "lab"}}}
  ]
 },
 {
  "width": 131, "height": 128,
  "title": {"text": ["Comparison of analysed ECMWF sea temperature", "with averaged buoy data."], "orient": "bottom", "anchor": "start", "frame": "group", "dx": -11, "fontSize": 6.2, "fontWeight": "bold", "lineHeight": 8, "baseline": "alphabetic", "offset": 5.5},
  "layer": [
   {"data": {"name": "D"}, "mark": {"type": "rect"},
    "encoding": {
     "x": {"field": "x", "type": "quantitative", "bin": {"binned": true, "step": 0.55}, "scale": {"domain": [-3, 19], "nice": false, "zero": false}, "axis": {"orient": "bottom", "format": "d", "labelPadding": 0, "values": [-2,0,2,4,6,8,10,12,14,16,18], "title": "Sea Temperature (deg) buoy", "titleFontSize": 13, "titleFontWeight": "bold", "titleX": -11, "titleY": 17.5, "titleAlign": "left", "titleBaseline": "alphabetic"}},
     "y": {"field": "y", "type": "quantitative", "bin": {"binned": true, "step": 0.55}, "scale": {"domain": [-3, 19], "nice": false, "zero": false}, "axis": {"orient": "left", "format": "d", "values": [-2,0,2,4,6,8,10,12,14,16,18], "title": "SST (deg) (0040 od )", "titleFontSize": 11, "titleFontWeight": "bold", "titleX": -14.5, "titleY": 70, "titleAngle": 270, "titleAlign": "center", "titleBaseline": "alphabetic"}},
     "color": {"field": "n", "type": "quantitative", "scale": {"type": "threshold", "domain": [3,5,9,18,36,73], "range": ["#8000ff","#0090ff","#00ff00","#ffb000","#e07000","#ff0000","#ff00ff"]}, "legend": null}
    }},
   {"data": {"name": "lines"}, "transform": [{"filter": "datum.p == 'D' && datum.t == 's'"}], "mark": {"type": "line", "color": "black", "strokeWidth": 0.8},
    "encoding": {"x": {"field": "x", "type": "quantitative", "axis": null}, "y": {"field": "y", "type": "quantitative", "axis": null}}},
   {"data": {"name": "lines"}, "transform": [{"filter": "datum.p == 'D' && datum.t == 'd'"}], "mark": {"type": "line", "color": "#555555", "strokeWidth": 0.8, "strokeDash": [3, 2]},
    "encoding": {"x": {"field": "x", "type": "quantitative", "axis": null}, "y": {"field": "y", "type": "quantitative", "axis": null}}},
   {"data": {"name": "ell"}, "transform": [{"filter": "datum.p == 'D'"}], "mark": {"type": "point", "shape": "M -1 0 A 1 0.84 0 1 1 1 0 A 1 0.84 0 1 1 -1 0 Z", "size": 7569, "filled": false, "color": "#c8400f", "strokeWidth": 2.2, "opacity": 1},
    "encoding": {"x": {"field": "x", "type": "quantitative", "axis": null}, "y": {"field": "y", "type": "quantitative", "axis": null}}},
   {"data": {"values": [{"t": "TSEA"}]}, "mark": {"type": "text", "align": "left", "baseline": "alphabetic", "fontSize": 11.5, "fontWeight": "bold"},
    "encoding": {"x": {"datum": -1.44, "type": "quantitative", "axis": null}, "y": {"datum": 16.8, "type": "quantitative", "axis": null}, "text": {"field": "t"}}}
  ],
  "resolve": {"axis": {"x": "independent", "y": "independent"}}
 },
 {
  "width": 30, "height": 128, "view": {"stroke": null},
  "layer": [
   {"data": {"name": "bands"}, "mark": {"type": "rect"},
    "encoding": {"x": {"datum": 0, "type": "quantitative", "scale": {"domain": [0, 30], "nice": false, "zero": false}, "axis": null}, "x2": {"datum": 12}, "y": {"field": "lo", "type": "quantitative", "scale": {"domain": [-0.252, 7.82], "nice": false, "zero": false}, "axis": null}, "y2": {"field": "hi"},
     "color": {"field": "n", "type": "quantitative", "scale": {"type": "threshold", "domain": [3,5,9,18,36,73], "range": ["#8000ff","#0090ff","#00ff00","#ffb000","#e07000","#ff0000","#ff00ff"]}, "legend": null}}},
   {"data": {"name": "blab"}, "mark": {"type": "text", "align": "left", "baseline": "middle", "dx": 3, "fontSize": 8, "fontWeight": "bold"},
    "encoding": {"x": {"datum": 12, "type": "quantitative", "axis": null}, "y": {"field": "k", "type": "quantitative", "axis": null}, "text": {"field": "lab"}}},
   {"data": {"values": [{"lab": "ENTRIES:"}]}, "mark": {"type": "text", "align": "left", "baseline": "middle", "fontSize": 7, "fontWeight": "bold"},
    "encoding": {"x": {"datum": 4, "type": "quantitative", "axis": null}, "y": {"datum": 7.57, "type": "quantitative", "axis": null}, "text": {"field": "lab"}}}
  ]
 }
],
"columns": 4,
"bounds": "flush",
"align": "each",
"spacing": {"row": 51, "column": 3}
}
